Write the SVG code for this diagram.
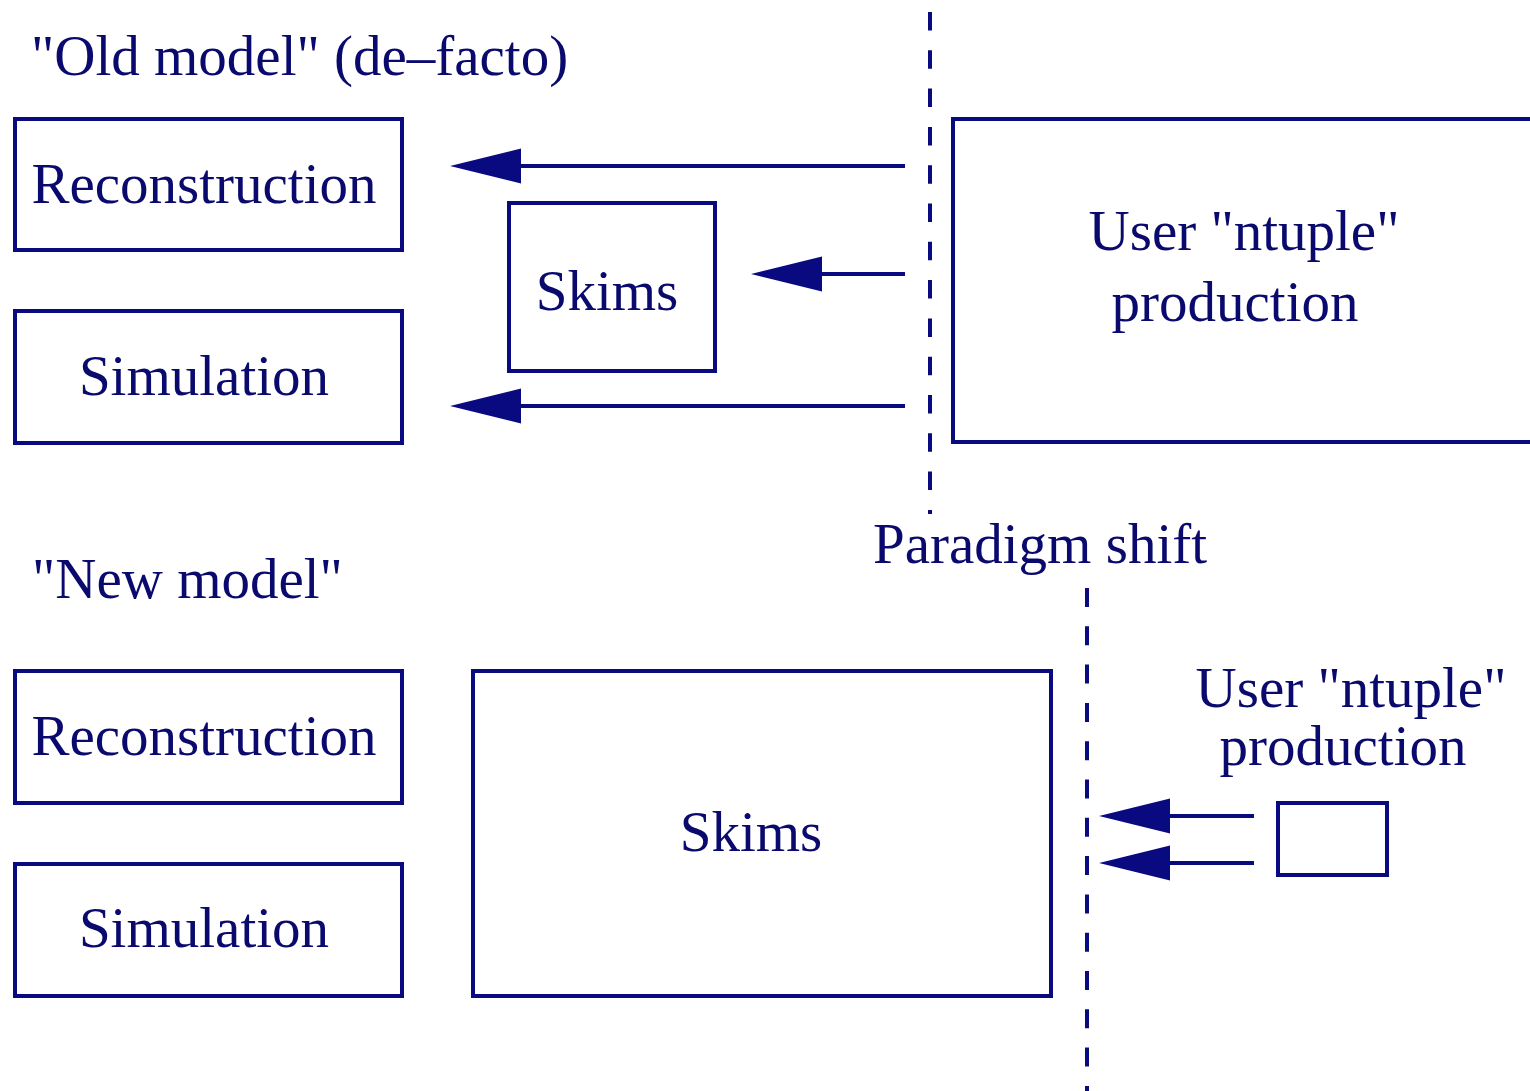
<svg xmlns="http://www.w3.org/2000/svg" width="1530" height="1091" viewBox="0 0 1530 1091">
<style>
.box{fill:#fff;stroke:#0a0a80;stroke-width:4}
.t{font-family:"Liberation Serif","Times New Roman",serif;font-size:57px;fill:#0a0a6e}
.c{text-anchor:middle}
.arr{stroke:#0a0a80;stroke-width:4;fill:none;marker-end:url(#ah)}
.dash{stroke:#0a0a80;stroke-width:4;fill:none}
</style>
<defs>
<marker id="ah" markerUnits="userSpaceOnUse" viewBox="0 0 71 35" refX="0" refY="17.5" markerWidth="71" markerHeight="35" orient="auto" overflow="visible">
<path d="M0,0 L71,17.5 L0,35 Z" fill="#0a0a80"/>
</marker>
</defs>
<rect width="1530" height="1091" fill="#fff"/>
<g id="labels">
<text class="t" x="31" y="75">"Old model" (de–facto)</text>
<text class="t" x="32" y="598">"New model"</text>
<text class="t" x="873" y="563">Paradigm shift</text>
</g>
<g id="dividers">
<path class="dash" d="M930,12 V514" stroke-dasharray="18.5 19.8"/>
<path class="dash" d="M1087,588 V1091" stroke-dasharray="19 19.3"/>
</g>
<g id="old-reconstruction">
<rect class="box" x="15" y="119" width="387" height="131"/>
<text class="t c" x="204" y="203">Reconstruction</text>
</g>
<g id="old-simulation">
<rect class="box" x="15" y="311" width="387" height="132"/>
<text class="t c" x="204" y="395">Simulation</text>
</g>
<g id="old-skims">
<rect class="box" x="509" y="203" width="206" height="168"/>
<text class="t c" x="607" y="310">Skims</text>
</g>
<g id="old-user">
<rect class="box" x="953" y="119" width="580" height="323"/>
<text class="t c" x="1244" y="250">User "ntuple"</text>
<text class="t c" x="1235" y="321">production</text>
</g>
<g id="new-reconstruction">
<rect class="box" x="15" y="671" width="387" height="132"/>
<text class="t c" x="204" y="755">Reconstruction</text>
</g>
<g id="new-simulation">
<rect class="box" x="15" y="864" width="387" height="132"/>
<text class="t c" x="204" y="947">Simulation</text>
</g>
<g id="new-skims">
<rect class="box" x="473" y="671" width="578" height="325"/>
<text class="t c" x="751" y="851">Skims</text>
</g>
<g id="new-user">
<text class="t c" x="1351" y="707">User "ntuple"</text>
<text class="t c" x="1343" y="765">production</text>
<rect class="box" x="1278" y="803" width="109" height="72"/>
</g>
<g id="connectors">
<path class="arr" d="M905,166 H521"/>
<path class="arr" d="M905,274 H822"/>
<path class="arr" d="M905,406 H521"/>
<path class="arr" d="M1254,816 H1170"/>
<path class="arr" d="M1254,863 H1170"/>
</g>
</svg>
